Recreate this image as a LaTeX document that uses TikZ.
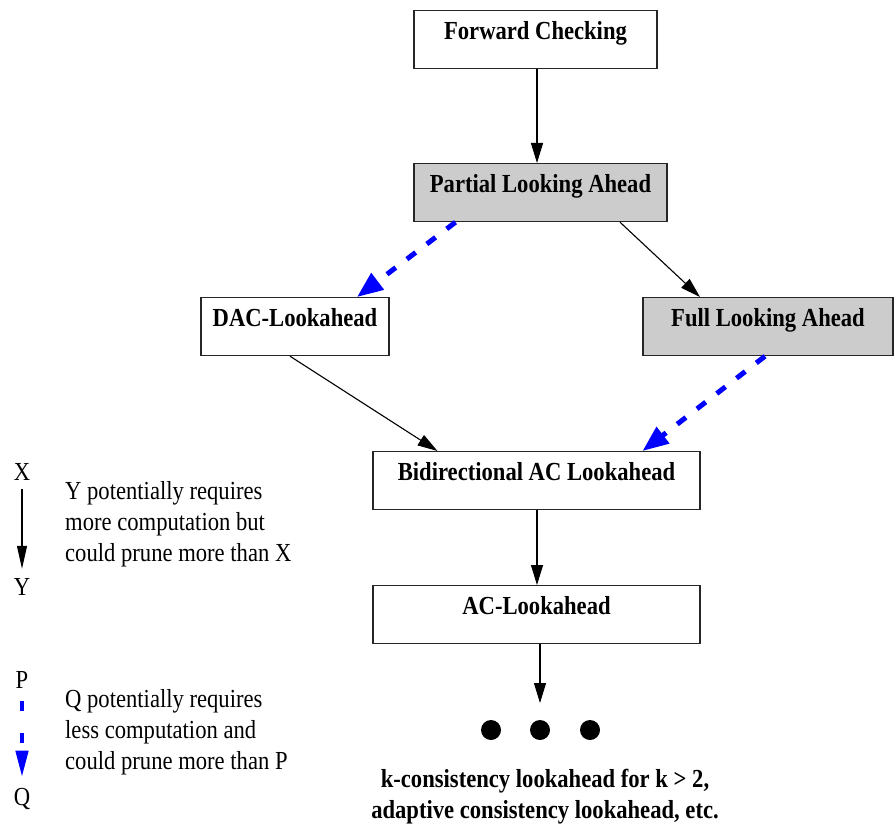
\documentclass[tikz,border=0pt]{standalone}
\usepackage{fontspec}
\setmainfont{Liberation Serif}[FakeStretch=0.87]
\usetikzlibrary{arrows.meta, positioning}

\begin{document}
\begin{tikzpicture}[x=1pt, y=-1pt,
    every node/.style={font=\fontsize{26}{31}\selectfont},
    box/.style={draw=black!85, line width=1.2pt, fill=white, inner sep=0pt,
        text height=29pt, text depth=29pt, font=\fontsize{26}{31}\selectfont\bfseries},
    shaded/.style={box, fill=gray!40},
    more/.style={-{Triangle[length=20pt, width=12pt]}, line width=1.1pt},
    less/.style={-{Triangle[length=26pt, width=20pt]}, blue, line width=5pt,
        dash pattern=on 11pt off 14pt}]
    % Fix the page to the size of the reference
    \useasboundingbox (0,0) rectangle (894,829);

    % The lookahead schemes, top edge of each box given
    \node[box, minimum width=243pt, anchor=north] (fc) at (535.5,10) {Forward Checking};
    \node[shaded, minimum width=253pt, anchor=north] (pla) at (540.5,163) {Partial Looking Ahead};
    \node[box, minimum width=188pt, anchor=north] (dac) at (295,297) {DAC-Lookahead};
    \node[shaded, minimum width=250pt, anchor=north] (fla) at (768,297) {Full Looking Ahead};
    \node[box, minimum width=327pt, anchor=north] (bac) at (536.5,451) {Bidirectional AC Lookahead};
    \node[box, minimum width=327pt, anchor=north] (acl) at (536.5,585) {AC-Lookahead};

    % Dots for the stronger schemes
    \coordinate (dtip) at (540,703);
    \foreach \x in {491,540,590}
        \fill (\x,730) circle (10pt);
    \node[anchor=base, align=center, font=\fontsize{26}{31}\selectfont\bfseries] (more) at (545,818)
        {k-consistency lookahead for k > 2,\\ adaptive consistency lookahead, etc.};

    % Connectors
    \draw[more] ([xshift=1.5pt]fc.south) -- ([xshift=-3.5pt]pla.north);
    \draw[more] ([xshift=79.5pt]pla.south) -- ([xshift=-68pt]fla.north);
    \draw[less] ([xshift=-85pt]pla.south) -- ([xshift=62pt]dac.north);
    \draw[more] ([xshift=-5pt]dac.south) -- ([xshift=-99pt]bac.north);
    \draw[less] ([xshift=-3pt]fla.south) -- ([xshift=106pt]bac.north);
    \draw[more] ([xshift=0.5pt]bac.south) -- ([xshift=0.5pt]acl.north);
    \draw[more] ([xshift=3.5pt]acl.south) -- (dtip);

    % Legend
    \node[inner sep=0pt, anchor=base] (lx) at (22,480) {X};
    \node[inner sep=0pt, anchor=base] (ly) at (22,595) {Y};
    \draw[-{Triangle[length=23pt, width=10pt]}, line width=1.1pt, shorten <=9pt, shorten >=9pt]
        (lx.south) -- (ly.north);
    \node[inner sep=0pt, anchor=base west, align=left] (lxy) at (65,561)
        {Y potentially requires\\ more computation but\\ could prune more than X};

    \node[inner sep=0pt, anchor=base] (lp) at (22,688) {P};
    \node[inner sep=0pt, anchor=base] (lq) at (22,805) {Q};
    \draw[-{Triangle[length=27pt, width=12pt]}, blue, line width=4.5pt,
        dash pattern=on 10pt off 22pt, shorten <=13pt, shorten >=10pt]
        (lp.south) -- (lq.north);
    \node[inner sep=0pt, anchor=base west, align=left] (lpq) at (65,769)
        {Q potentially requires\\ less computation and\\ could prune more than P};
\end{tikzpicture}
\end{document}
